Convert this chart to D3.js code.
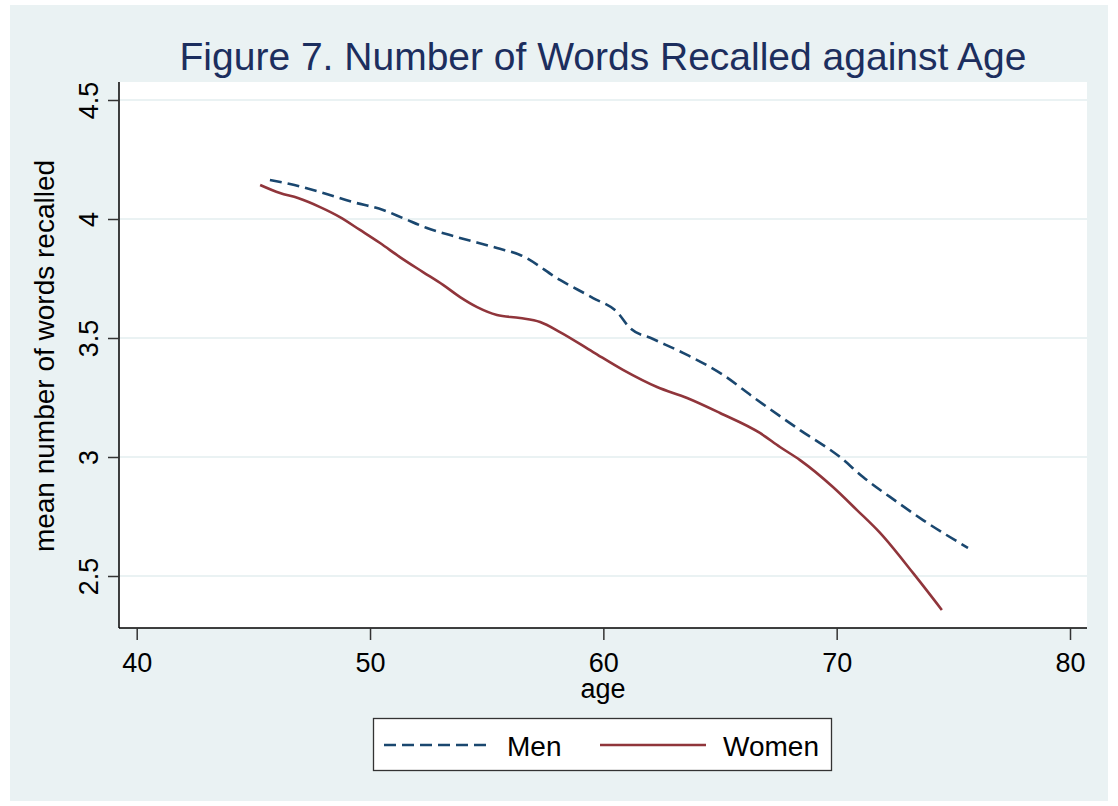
<!DOCTYPE html>
<html>
<head>
<meta charset="utf-8">
<script src="https://cdn.jsdelivr.net/npm/d3@7"></script>
<style>
  body { margin: 0; background: #ffffff; }
  text { font-family: "Liberation Sans", Arial, sans-serif; }
</style>
</head>
<body>
<div class="chart"></div>
<script>
// data
var menAge = [45.71, 46.57, 47.86, 49.27, 50.56, 51.41, 52.44, 53.73, 55.44, 56.43, 58.14, 59.56, 60.59, 61.14, 62.13, 63.59, 65.13, 66.42, 68.43, 70.14, 71.13, 72.59, 73.70, 75.63];
var menWords = [4.164, 4.147, 4.113, 4.071, 4.038, 4.004, 3.962, 3.924, 3.878, 3.849, 3.744, 3.668, 3.609, 3.542, 3.496, 3.429, 3.345, 3.252, 3.113, 3.000, 2.916, 2.811, 2.735, 2.618];
var womenAge = [45.29, 46.14, 46.91, 47.86, 48.71, 49.57, 50.43, 51.28, 52.27, 53.13, 53.86, 54.59, 55.44, 56.43, 57.29, 58.14, 59.56, 60.84, 62.30, 63.59, 65.00, 66.71, 67.57, 68.43, 69.84, 70.87, 71.86, 73.27, 74.51];
var womenWords = [4.143, 4.109, 4.088, 4.050, 4.008, 3.954, 3.899, 3.840, 3.777, 3.723, 3.672, 3.630, 3.597, 3.584, 3.567, 3.525, 3.441, 3.366, 3.294, 3.248, 3.185, 3.101, 3.042, 2.987, 2.874, 2.777, 2.681, 2.513, 2.357];
var xTicks = [40, 50, 60, 70, 80];
var yTicks = [2.5, 3, 3.5, 4, 4.5];

var svgWidth = 1118;
var svgHeight = 806;

// plot region inside the graph
var margin = { top: 82, right: 31, bottom: 178, left: 119 };
var width = svgWidth - margin.left - margin.right;
var height = svgHeight - margin.top - margin.bottom;

var bg = "#eaf2f3";
var menColor = "#1a476f";
var womenColor = "#90353b";

var svg = d3.select(".chart")
  .append("svg")
    .attr("width", svgWidth)
    .attr("height", svgHeight);

// graph region background
svg.append("rect")
  .attr("x", 10).attr("y", 5)
  .attr("width", svgWidth - 20).attr("height", svgHeight - 10)
  .attr("fill", bg);

var chart = svg.append("g")
  .attr("transform", "translate(" + margin.left + "," + margin.top + ")");

chart.append("rect")
  .attr("width", width).attr("height", height)
  .attr("fill", "#ffffff");

// scales: 40 sits at 136.7px, 80 at 1070px; 4.5 at y=100, 2.5 at y=576
var xScale = d3.scaleLinear().domain([40, 80]).range([136.7 - margin.left, 1070 - margin.left]);
var yScale = d3.scaleLinear().domain([2.5, 4.5]).range([576 - margin.top, 100 - margin.top]);

// grid lines
chart.selectAll(".grid")
  .data(yTicks)
  .enter().append("line")
    .attr("class", "grid")
    .attr("x1", 0).attr("x2", width)
    .attr("y1", function(d) { return yScale(d); })
    .attr("y2", function(d) { return yScale(d); })
    .attr("stroke", bg)
    .attr("stroke-width", 2);

// lines
var line = d3.line()
  .x(function(d) { return xScale(d[0]); })
  .y(function(d) { return yScale(d[1]); })
  .curve(d3.curveMonotoneX);

var menData = menAge.map(function(a, i) { return [a, menWords[i]]; });
var womenData = womenAge.map(function(a, i) { return [a, womenWords[i]]; });

chart.append("path")
  .datum(womenData)
  .attr("d", line)
  .attr("fill", "none")
  .attr("stroke", womenColor)
  .attr("stroke-width", 2.6);

chart.append("path")
  .datum(menData)
  .attr("d", line)
  .attr("fill", "none")
  .attr("stroke", menColor)
  .attr("stroke-width", 2.6)
  .attr("stroke-dasharray", "12,6");

// axes
var bottomAxis = d3.axisBottom(xScale).tickValues(xTicks).tickSize(12).tickSizeOuter(0).tickPadding(13);
var leftAxis = d3.axisLeft(yScale).tickValues(yTicks).tickSize(11).tickSizeOuter(0)
  .tickFormat(function(d) { return String(d); });

var xAxisG = chart.append("g")
  .attr("transform", "translate(0," + height + ")")
  .call(bottomAxis);
xAxisG.select(".domain").attr("d", "M0,0H" + width);

var yAxisG = chart.append("g").call(leftAxis);
yAxisG.select(".domain").attr("d", "M0,0V" + height);

[xAxisG, yAxisG].forEach(function(g) {
  g.selectAll(".domain").attr("stroke", "#000").attr("stroke-width", 1.5);
  g.selectAll(".tick line").attr("stroke", "#333").attr("stroke-width", 1.5);
  g.selectAll(".tick text")
    .attr("fill", "#000")
    .style("font-size", "27px")
    .style("font-family", "Liberation Sans, Arial, sans-serif");
});

// y tick labels are vertical
yAxisG.selectAll(".tick text")
  .attr("x", null).attr("dy", null)
  .attr("text-anchor", "middle")
  .attr("transform", "translate(-21,0) rotate(-90)");

// title
svg.append("text")
  .attr("x", 603)
  .attr("y", 70)
  .attr("text-anchor", "middle")
  .attr("fill", "#1c2e5e")
  .style("font-size", "39px")
  .text("Figure 7. Number of Words Recalled against Age");

// axis titles
svg.append("text")
  .attr("x", 603)
  .attr("y", 698)
  .attr("text-anchor", "middle")
  .attr("fill", "#000")
  .style("font-size", "27px")
  .text("age");

svg.append("text")
  .attr("transform", "translate(54,356) rotate(-90)")
  .attr("text-anchor", "middle")
  .attr("fill", "#000")
  .style("font-size", "28px")
  .text("mean number of words recalled");

// legend
var legend = svg.append("g");
legend.append("rect")
  .attr("x", 373.5).attr("y", 718.5)
  .attr("width", 458).attr("height", 52)
  .attr("fill", "#fff")
  .attr("stroke", "#333")
  .attr("stroke-width", 1.3);

var legendItems = [
  { name: "Men", color: menColor, dash: "12,6", x: 384 },
  { name: "Women", color: womenColor, dash: null, x: 600 }
];

legendItems.forEach(function(item) {
  legend.append("line")
    .attr("x1", item.x).attr("x2", item.x + 106)
    .attr("y1", 745).attr("y2", 745)
    .attr("stroke", item.color)
    .attr("stroke-width", 2.6)
    .attr("stroke-dasharray", item.dash);
  legend.append("text")
    .attr("x", item.x + 123)
    .attr("y", 756)
    .attr("fill", "#000")
    .style("font-size", "28px")
    .text(item.name);
});
</script>
</body>
</html>
